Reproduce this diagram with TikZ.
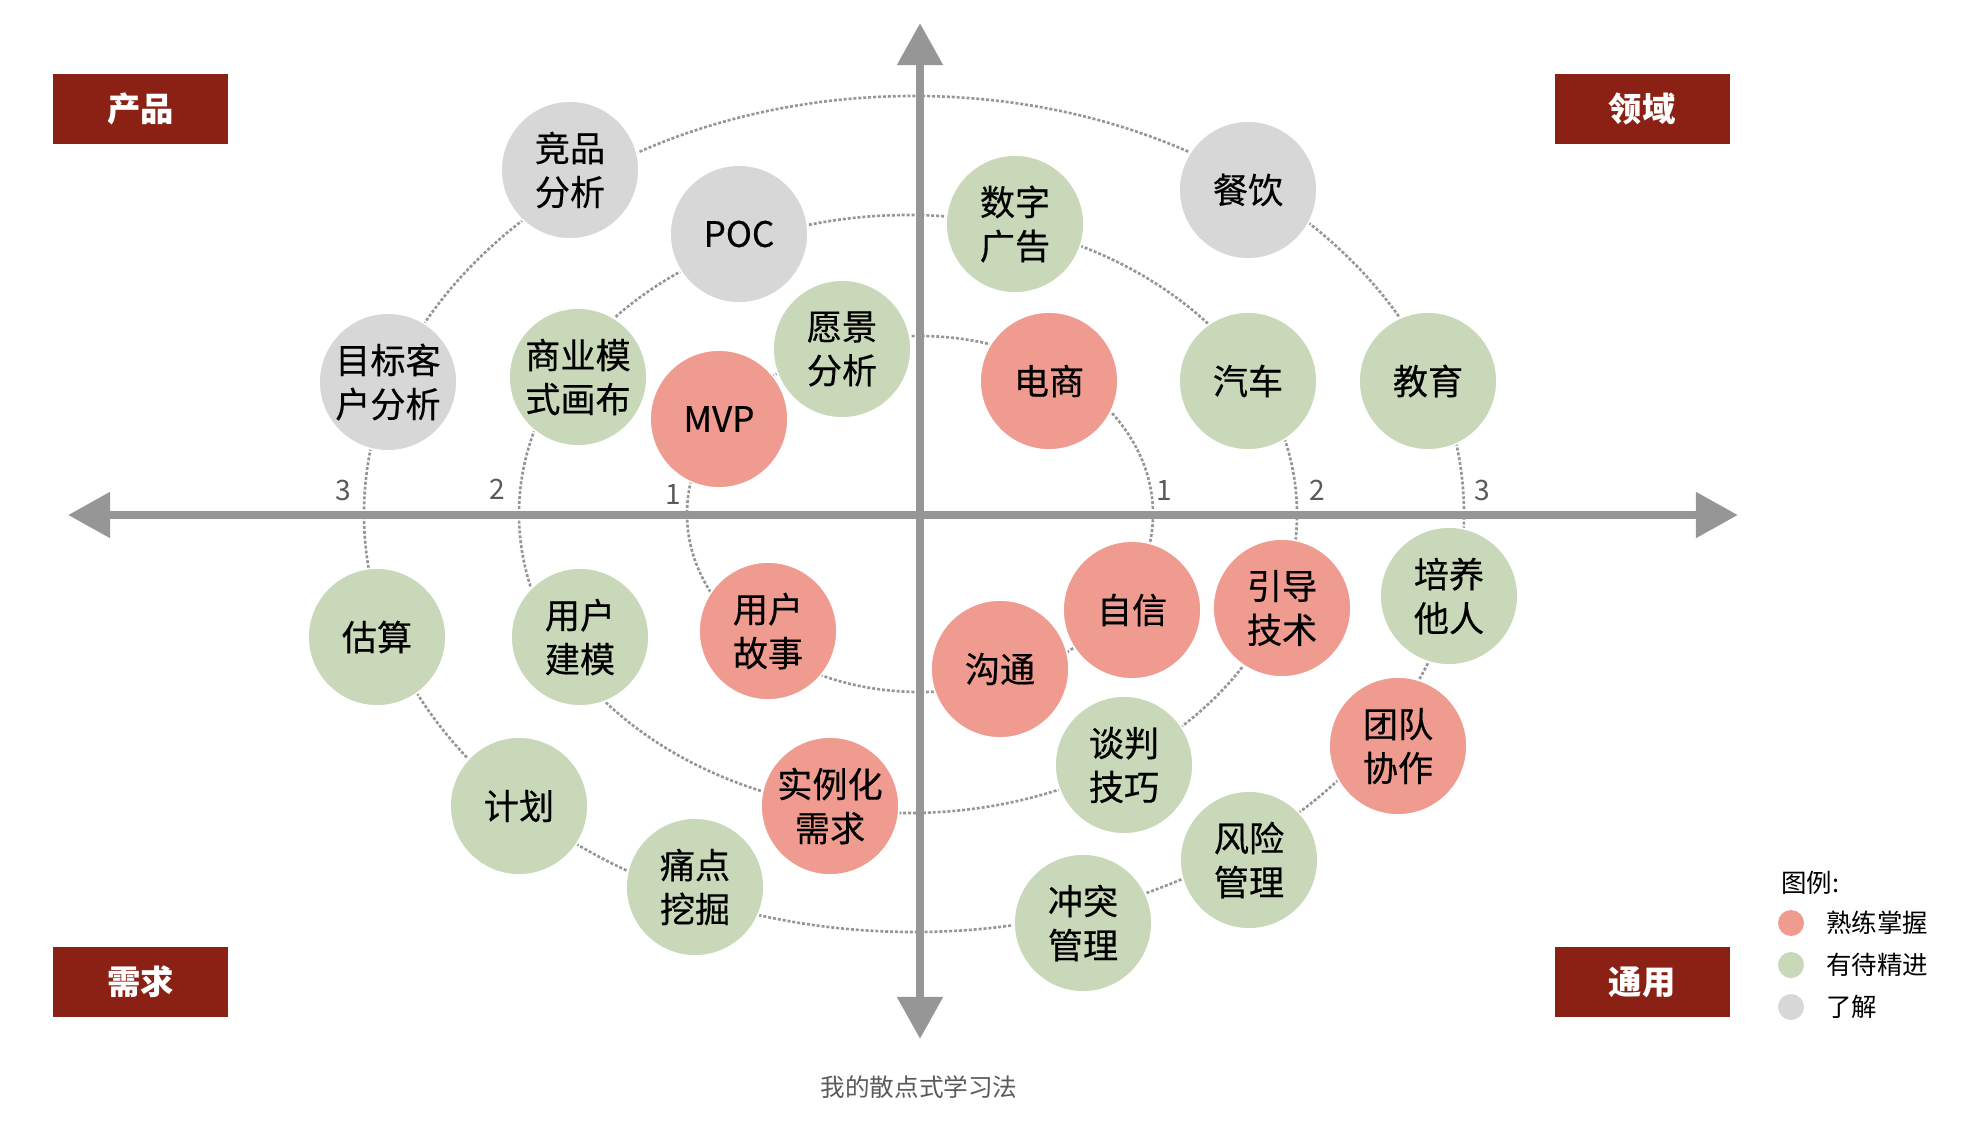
\documentclass[tikz,border=0pt]{standalone}
\usepackage{fontspec}
\setmainfont{Noto Sans CJK SC}
\newfontfamily\skillfont{Noto Sans CJK SC}[FakeBold=0.4]
\usetikzlibrary{arrows.meta}
\definecolor{hotfill}{RGB}{239,155,144}
\definecolor{midfill}{RGB}{200,216,184}
\definecolor{lowfill}{RGB}{215,215,215}
\definecolor{boxred}{RGB}{139,32,20}
\definecolor{axisgray}{RGB}{150,150,150}
\definecolor{ringgray}{RGB}{150,150,150}
\definecolor{labelgray}{RGB}{90,90,90}

\begin{document}
\begin{tikzpicture}[x=0.02cm, y=0.02cm]
                  \tikzstyle{every node}+=[inner sep=0pt]
                  \tikzstyle{ring}=[draw=ringgray, line width=1.5pt, dash pattern=on 1.7pt off 1.1pt]
                  \tikzstyle{axis}=[draw=axisgray, line width=5pt, arrows={Triangle[length=24pt,width=25pt]-Triangle[length=24pt,width=25pt]}]
                  \tikzstyle{skill}=[circle, minimum size=2.76cm, draw=white, line width=1pt, align=center, font=\skillfont\fontsize{20}{25}\selectfont]
                  \tikzstyle{mastered}=[skill, fill=hotfill]
                  \tikzstyle{growing}=[skill, fill=midfill]
                  \tikzstyle{known}=[skill, fill=lowfill]
                  \tikzstyle{quadrant}=[fill=boxred, text=white, minimum width=3.5cm, minimum height=1.39cm, font=\fontsize{19}{19}\selectfont\bfseries]
                  \tikzstyle{tick}=[text=labelgray, font=\fontsize{16}{16}\selectfont]
                  \tikzstyle{keydot}=[circle, minimum size=0.52cm]
                  \tikzstyle{keytext}=[anchor=west, font=\fontsize{14.5}{14.5}\selectfont]
                  \useasboundingbox (0,0) rectangle (1976,-1120);
                  \draw [ring] (920,-514) ellipse [x radius=233, y radius=178];
                  \draw [ring] (908,-514) ellipse [x radius=389, y radius=299];
                  \draw [ring] (914,-514) ellipse [x radius=550, y radius=418];
                  \coordinate (west) at (68,-515);
                  \coordinate (east) at (1738,-515);
                  \coordinate (north) at (920,-23);
                  \coordinate (south) at (920,-1039);
                  \draw [axis] (west) -- (east);
                  \draw [axis] (north) -- (south);
                  \node [tick] (left1) at (673,-494) {1};
                  \node [tick] (left2) at (497,-489) {2};
                  \node [tick] (left3) at (343,-490) {3};
                  \node [tick] (right1) at (1164,-490) {1};
                  \node [tick] (right2) at (1317,-490) {2};
                  \node [tick] (right3) at (1482,-490) {3};
                  \node [quadrant] (product) at (140.5,-109) {产品};
                  \node [quadrant] (domain) at (1642,-109) {领域};
                  \node [quadrant] (demand) at (140.5,-982) {需求};
                  \node [quadrant] (general) at (1642,-982) {通用};
                  \node [known] (jingpin) at (570,-170) {竞品\\分析};
                  \node [known] (poc) at (739,-234) {POC};
                  \node [known] (kehu) at (388,-382) {目标客\\户分析};
                  \node [known] (canyin) at (1248,-190) {餐饮};
                  \node [growing] (huabu) at (578,-377) {商业模\\式画布};
                  \node [growing] (yuanjing) at (842,-349) {愿景\\分析};
                  \node [growing] (guanggao) at (1015,-224) {数字\\广告};
                  \node [growing] (qiche) at (1248,-381) {汽车};
                  \node [growing] (jiaoyu) at (1428,-381) {教育};
                  \node [growing] (peiyang) at (1449,-596) {培养\\他人};
                  \node [growing] (tanpan) at (1124,-765) {谈判\\技巧};
                  \node [growing] (fengxian) at (1249,-860) {风险\\管理};
                  \node [growing] (chongtu) at (1083,-923) {冲突\\管理};
                  \node [growing] (gusuan) at (377,-637) {估算};
                  \node [growing] (jianmo) at (580,-637) {用户\\建模};
                  \node [growing] (jihua) at (519,-806) {计划};
                  \node [growing] (tongdian) at (695,-887) {痛点\\挖掘};
                  \node [mastered] (mvp) at (719,-419) {MVP};
                  \node [mastered] (dianshang) at (1049,-381) {电商};
                  \node [mastered] (zixin) at (1132,-610) {自信};
                  \node [mastered] (goutong) at (1000,-669) {沟通};
                  \node [mastered] (yindao) at (1282,-608) {引导\\技术};
                  \node [mastered] (tuandui) at (1398,-746) {团队\\协作};
                  \node [mastered] (gushi) at (768,-631) {用户\\故事};
                  \node [mastered] (shili) at (830,-806) {实例化\\需求};
                  \node [keytext] (keytitle) at (1781,-883) {图例:};
                  \node [keydot, fill=hotfill] (keyhot) at (1791,-923) {};
                  \node [keydot, fill=midfill] (keymid) at (1791,-965) {};
                  \node [keydot, fill=lowfill] (keylow) at (1791,-1007) {};
                  \node [keytext] (keyhottext) at (1826,-923) {熟练掌握};
                  \node [keytext] (keymidtext) at (1826,-965) {有待精进};
                  \node [keytext] (keylowtext) at (1826,-1007) {了解};
                  \node [text=labelgray, font=\fontsize{14}{14}\selectfont] (caption) at (919,-1087) {我的散点式学习法};
              \end{tikzpicture}
\end{document}
